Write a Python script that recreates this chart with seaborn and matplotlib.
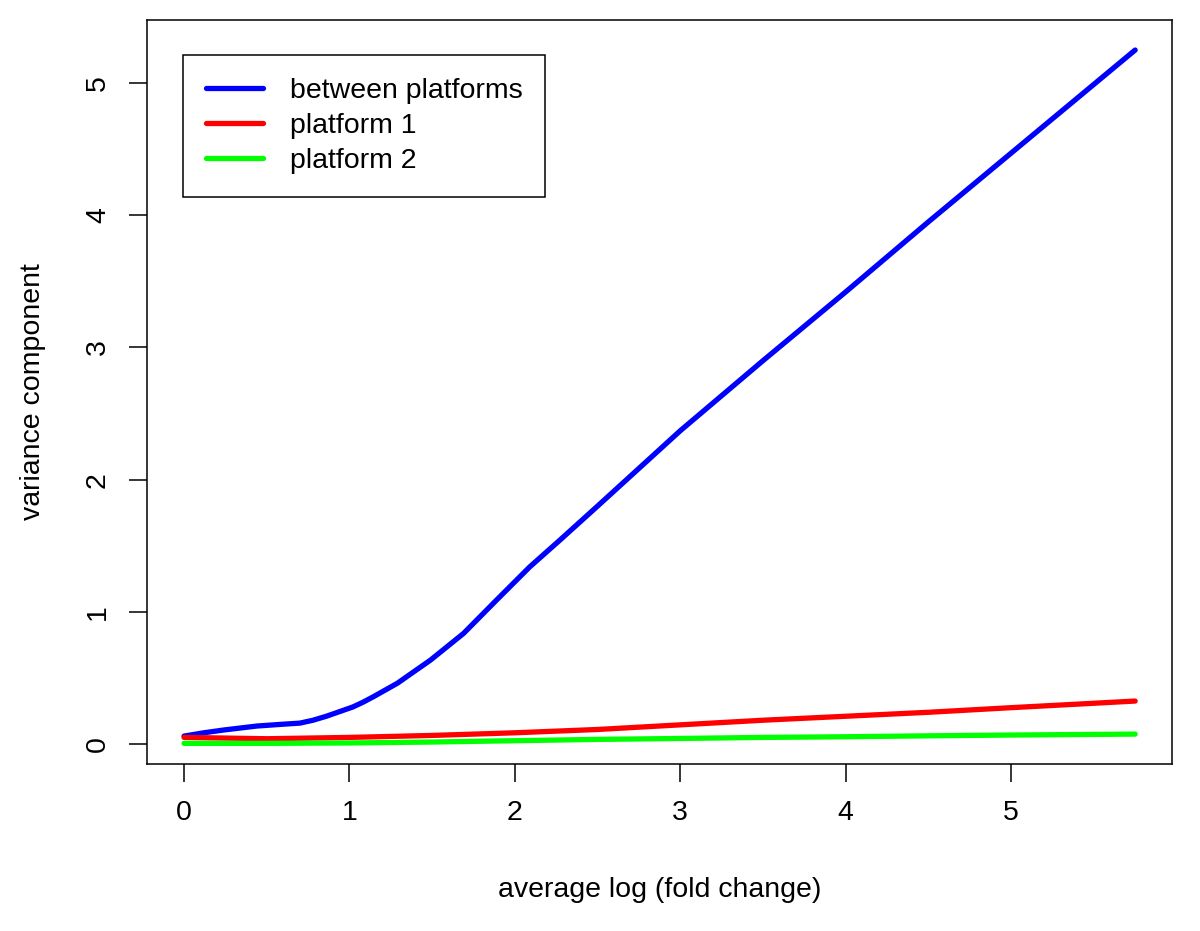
import matplotlib
matplotlib.use("Agg")
import matplotlib.pyplot as plt
import seaborn as sns

# values
x_between = [0, 0.12, 0.24, 0.44, 0.6, 0.7, 0.78, 0.86, 0.94, 1.02, 1.08, 1.145, 1.29, 1.49, 1.69,
             1.89, 2.09, 2.27, 2.5, 3.0, 3.5, 4.0, 4.5, 5.0, 5.75]
y_between = [0.06, 0.085, 0.106, 0.136, 0.15, 0.158, 0.18, 0.21, 0.245, 0.28, 0.315, 0.358, 0.46,
             0.635, 0.837, 1.09, 1.34, 1.54, 1.8, 2.37, 2.9, 3.42, 3.95, 4.47, 5.25]
x_plat = [0, 0.5, 1.0, 1.5, 2.0, 2.5, 3.0, 3.5, 4.0, 4.5, 5.0, 5.75]
y_plat1 = [0.05, 0.04, 0.05, 0.065, 0.085, 0.11, 0.145, 0.18, 0.21, 0.24, 0.275, 0.325]
y_plat2 = [0.005, 0.005, 0.008, 0.015, 0.025, 0.035, 0.042, 0.05, 0.055, 0.062, 0.068, 0.075]

sns.set_style("ticks")
plt.rcParams["font.family"] = ["Liberation Sans", "DejaVu Sans"]
plt.rcParams["text.color"] = "black"
plt.rcParams["axes.labelcolor"] = "black"

fig = plt.figure(figsize=(12, 9.31), dpi=100)
ax = fig.add_axes([0.1225, 0.1794, 0.8542, 0.7991])

sns.lineplot(x=x_between, y=y_between, color="#0000ff", lw=3.8, ax=ax, label="between platforms")
sns.lineplot(x=x_plat, y=y_plat1, color="#ff0000", lw=3.8, ax=ax, label="platform 1")
sns.lineplot(x=x_plat, y=y_plat2, color="#00ff00", lw=3.8, ax=ax, label="platform 2")
for ln in ax.get_lines():
    ln.set_solid_capstyle("round")
    ln.set_solid_joinstyle("round")

ax.set_xlim(-0.224, 5.973)
ax.set_ylim(-0.151, 5.477)
ax.set_xticks([0, 1, 2, 3, 4, 5])
ax.set_yticks([0, 1, 2, 3, 4, 5])
ax.tick_params(axis="both", direction="out", length=13, width=1.1, labelsize=20.5, colors="black")
ax.tick_params(axis="x", pad=13)
ax.tick_params(axis="y", pad=13)
for t in ax.get_yticklabels():
    t.set_rotation(90)
    t.set_va("center")
for s in ax.spines.values():
    s.set_visible(True)
    s.set_linewidth(1.1)
    s.set_color("black")

ax.set_xlabel("average log (fold change)", fontsize=20.5, labelpad=37)
ax.set_ylabel("variance component", fontsize=20.5, labelpad=28)

leg = ax.legend(loc="upper left", bbox_to_anchor=(0.035, 0.953), borderaxespad=0,
                fontsize=20.5, frameon=True, fancybox=False, edgecolor="black",
                handlelength=2.0, handletextpad=0.95, labelspacing=0.32, borderpad=0.8)
leg.get_frame().set_linewidth(1.1)
leg.get_frame().set_alpha(1)
for h in leg.get_lines():
    h.set_linewidth(3.8)
    h.set_solid_capstyle("round")

fig.savefig("out.png", dpi=100)
